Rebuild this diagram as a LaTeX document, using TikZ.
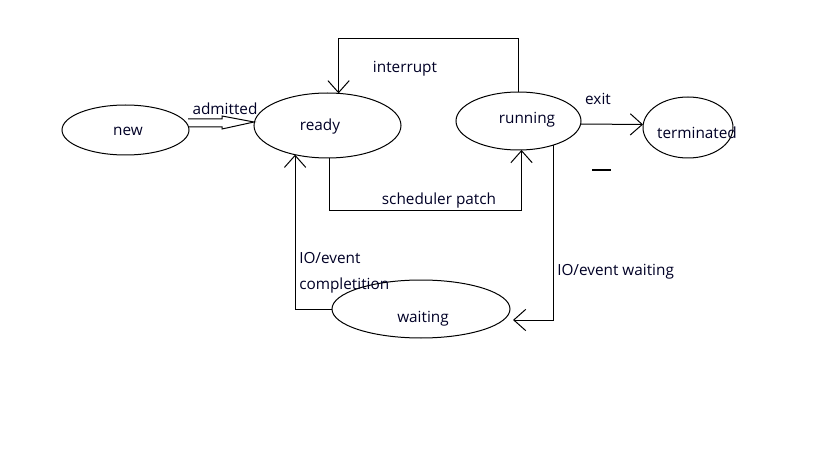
\documentclass[tikz,border=0pt]{standalone}
\usepackage{fontspec}
\setmainfont{Open Sans}
\usetikzlibrary{shapes.geometric,arrows.meta,calc}
\tikzset{
  state/.style={ellipse,draw,line width=0.75pt,inner sep=0pt,outer sep=0pt},
  lbl/.style={font=\fontsize{11.5pt}{13pt}\selectfont,inner sep=0pt,text=black!85!blue,yshift=-1pt},
  conn/.style={line width=0.75pt},
  arr/.style={conn,-{Straight Barb[length=9pt,width=16pt,line width=0.75pt]}}
}
\begin{document}
\begin{tikzpicture}[x=0.75pt,y=-0.75pt]
\useasboundingbox[fill=white] (0,0) rectangle (819,460);
% states
\node[state,minimum width=127*0.75pt,minimum height=50*0.75pt] (new) at (125.5,130) {};
\node[state,minimum width=147*0.75pt,minimum height=65*0.75pt] (ready) at (327.5,125.5) {};
\node[state,minimum width=125*0.75pt,minimum height=58*0.75pt] (running) at (518.5,121) {};
\node[state,minimum width=90*0.75pt,minimum height=61*0.75pt] (terminated) at (688,127.5) {};
\node[state,minimum width=178*0.75pt,minimum height=58*0.75pt] (waiting) at (421,309) {};
% state texts
\node[lbl] (newt) at (128,130) {new};
\node[lbl] (readyt) at (320,125) {ready};
\node[lbl] (runningt) at (527,118) {running};
\node[lbl] (terminatedt) at (697,131) {terminated};
\node[lbl] (waitingt) at (423,317) {waiting};
% admitted (hollow double arrow)
\draw[conn,line join=miter] ($(new.east)+(-1,-11)$) -- ++(34,0) -- ++(0,-3) -- ($(ready.west)+(0,-3.5)$)
  -- ($(new.east)+(33,-1)$) -- ++(0,-2) -- ($(new.east)+(-1,-3)$);
\node[lbl] (admitted) at (225,107) {admitted};
% interrupt
\draw[arr] (running.north) -- ++(0,-53) -| (ready.71);
\node[lbl] (interrupt) at (405,67) {interrupt};
% scheduler patch
\draw[arr] (ready.-87) -- ++(0,53) -| (running.-84);
\node[lbl] (sched) at (439,199) {scheduler patch};
% exit
\draw[arr] ($(running.east)+(0,3)$) -- ($(terminated.west)+(0,-3)$);
\node[lbl] (exit) at (598,98) {exit};
% IO/event waiting
\draw[arr] (running.-34) |- ($(waiting.east)+(3,11)$);
\node[lbl,anchor=west] (iow) at (557,270) {IO/event waiting};
% IO/event completion
\draw[arr] (waiting.west) -| (ready.-138);
\node[lbl,anchor=west] (ioc1) at (299,257) {IO/event};
\node[lbl,anchor=west] (ioc2) at (299,284) {completition};
% stray dash
\draw[line width=1.1pt] (592,170) -- (611,170);
\end{tikzpicture}
\end{document}
